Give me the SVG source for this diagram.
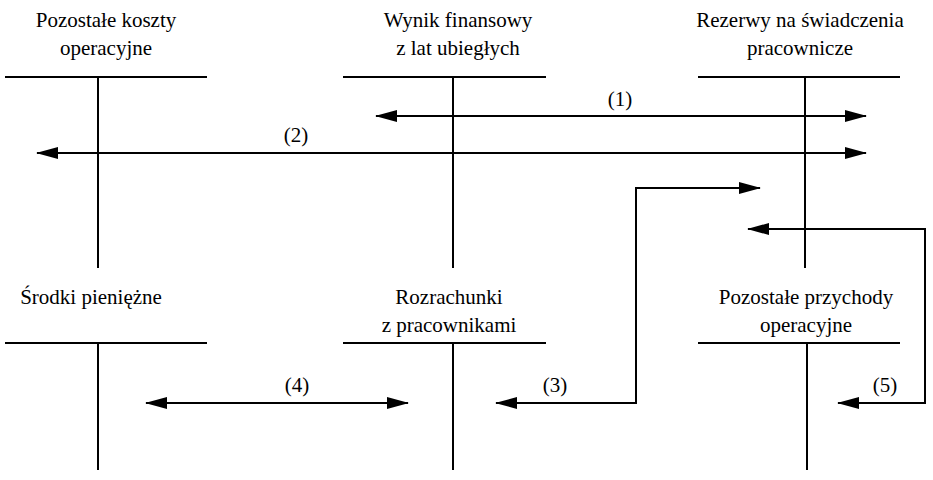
<svg xmlns="http://www.w3.org/2000/svg" width="933" height="480" viewBox="0 0 933 480">
<style>
text{font-family:"Liberation Serif","Times New Roman",serif;font-size:21px;fill:#000;text-anchor:middle}
.t{stroke:#000;stroke-width:2;fill:none}
.c{stroke:#000;stroke-width:2;fill:none}
</style>
<defs>
<marker id="ah" viewBox="0 0 22 12" refX="21" refY="6" markerWidth="22" markerHeight="12" markerUnits="userSpaceOnUse" orient="auto-start-reverse">
<path d="M0,0 L22,6 L0,12 z" fill="#000"/>
</marker>
</defs>
<rect width="933" height="480" fill="#fff"/>
<g id="pozostale-koszty">
<text x="106" y="27">Pozostałe koszty</text>
<text x="106" y="55">operacyjne</text>
<path class="t" d="M5,77 H207 M98,77 V268"/>
</g>
<g id="wynik-finansowy">
<text x="458" y="27">Wynik finansowy</text>
<text x="458" y="55">z lat ubiegłych</text>
<path class="t" d="M343,77 H546 M453,77 V268"/>
</g>
<g id="rezerwy">
<text x="800" y="27">Rezerwy na świadczenia</text>
<text x="800" y="55">pracownicze</text>
<path class="t" d="M698,77 H900 M805,77 V268"/>
</g>
<g id="srodki">
<text x="91" y="304">Środki pieniężne</text>
<path class="t" d="M5,343 H207 M98,343 V470"/>
</g>
<g id="rozrachunki">
<text x="449" y="304">Rozrachunki</text>
<text x="449" y="332">z pracownikami</text>
<path class="t" d="M343,343 H546 M453,343 V470"/>
</g>
<g id="pozostale-przychody">
<text x="806" y="304">Pozostałe przychody</text>
<text x="806" y="332">operacyjne</text>
<path class="t" d="M698,343 H900 M807,343 V470"/>
</g>
<g id="connectors">
<path class="c" d="M376,116 H866" marker-start="url(#ah)" marker-end="url(#ah)"/>
<text x="620" y="106">(1)</text>
<path class="c" d="M37,153 H866" marker-start="url(#ah)" marker-end="url(#ah)"/>
<text x="296" y="142">(2)</text>
<path class="c" d="M496,403 H636 V188 H760" marker-start="url(#ah)" marker-end="url(#ah)"/>
<text x="555" y="392">(3)</text>
<path class="c" d="M146,403 H408" marker-start="url(#ah)" marker-end="url(#ah)"/>
<text x="297" y="392">(4)</text>
<path class="c" d="M748,229 H925 V403 H838" marker-start="url(#ah)" marker-end="url(#ah)"/>
<text x="885" y="392">(5)</text>
</g>
</svg>
